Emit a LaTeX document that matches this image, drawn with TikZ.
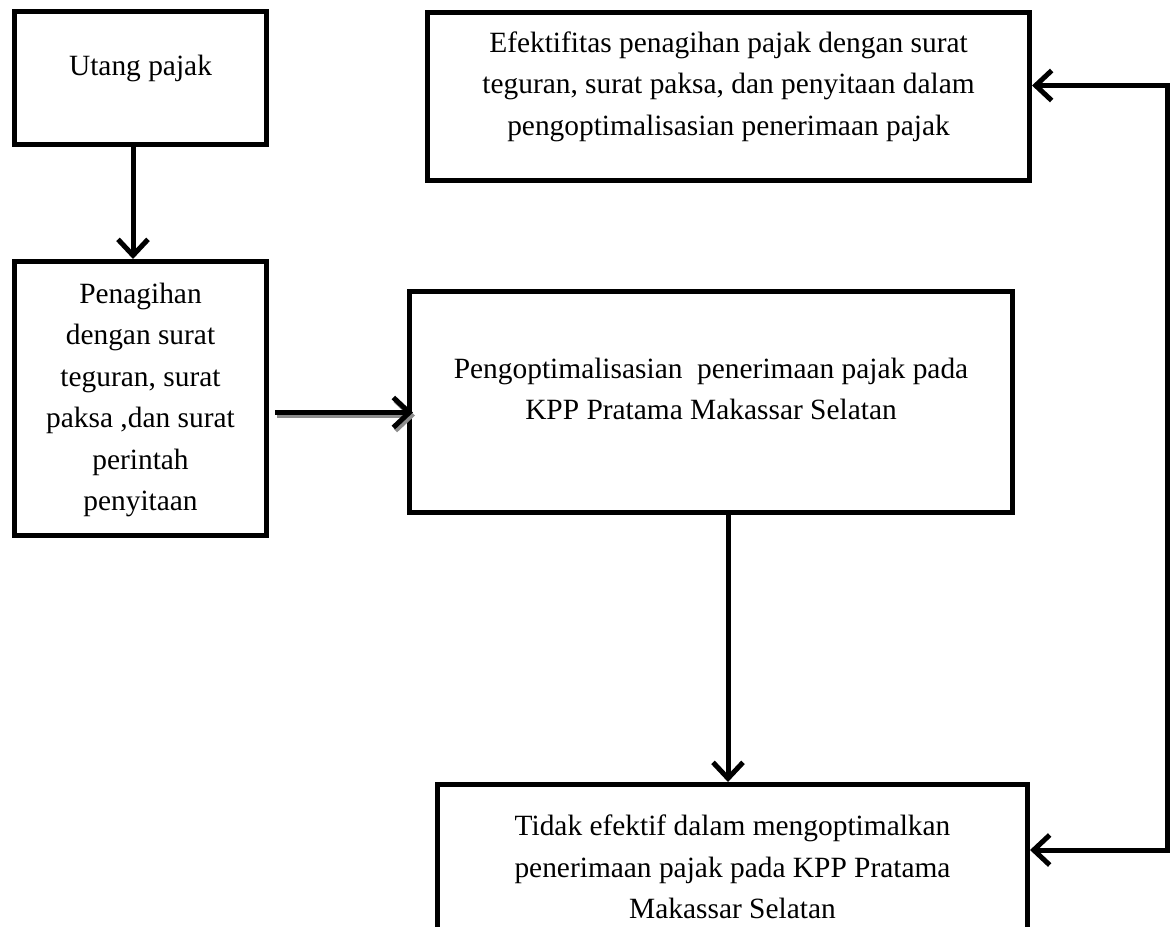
\documentclass[tikz,border=0pt]{standalone}
\usepackage{fontspec}
\setmainfont{Liberation Serif}
\usetikzlibrary{arrows.meta}
\begin{document}
\begin{tikzpicture}[x=0.5pt,y=-0.5pt, line width=2.5pt,
  every node/.style={font=\fontsize{14.7}{20.75}\selectfont},
  box/.style={draw,rectangle,inner sep=0pt},
  txt/.style={align=center,yshift=5pt},
  flow/.style={-{Straight Barb[length=8pt,width=15pt]}},
  shadowed/.style={preaction={draw=black!45,transform canvas={xshift=1pt,yshift=-1.5pt}}}]
\useasboundingbox (0,0) rectangle (1170,926);
\node[box,minimum width=126pt,minimum height=66.5pt,label={[txt]center:Utang pajak}] (utang) at (140.5,78) {};
\node[box,minimum width=126pt,minimum height=137pt] (pen) at (140.5,398.5) {\begin{tabular}{c}Penagihan\\dengan surat\\teguran, surat\\paksa ,dan surat\\perintah\\penyitaan\end{tabular}};
\node[box,minimum width=301pt,minimum height=84pt,label={[txt]center:{Efektifitas penagihan pajak dengan surat\\teguran, surat paksa, dan penyitaan dalam\\pengoptimalisasian penerimaan pajak}}] (efek) at (728.5,96.5) {};
\node[box,minimum width=301.5pt,minimum height=110.5pt,label={[txt,yshift=1.5pt]center:{Pengoptimalisasian\ \ penerimaan pajak pada\\KPP Pratama Makassar Selatan}}] (opt) at (711,402) {};
\node[box,minimum width=295pt,minimum height=82.5pt,label={[txt,yshift=-5pt]center:{Tidak efektif dalam mengoptimalkan\\penerimaan pajak pada KPP Pratama\\Makassar Selatan}}] (bot) at (732.5,867) {};
\coordinate (side) at (1167,500);
% arrows
\draw[flow] ([xshift=-3.75pt]utang.south) -- ([xshift=-3.75pt]utang.south |- pen.north);
\draw[flow,shadowed] ([xshift=3pt,yshift=-7pt]pen.east) -- ([xshift=3pt,yshift=-7pt]pen.east -| opt.west);
\draw[flow] ([xshift=8.5pt]opt.south) -- ([xshift=8.5pt]opt.south |- bot.north);
\draw[{Straight Barb[length=8pt,width=15pt]}-{Straight Barb[length=8pt,width=15pt]}] ([yshift=5.5pt]efek.east) -| (side) |- ([yshift=8.5pt]bot.east);
\end{tikzpicture}
\end{document}
